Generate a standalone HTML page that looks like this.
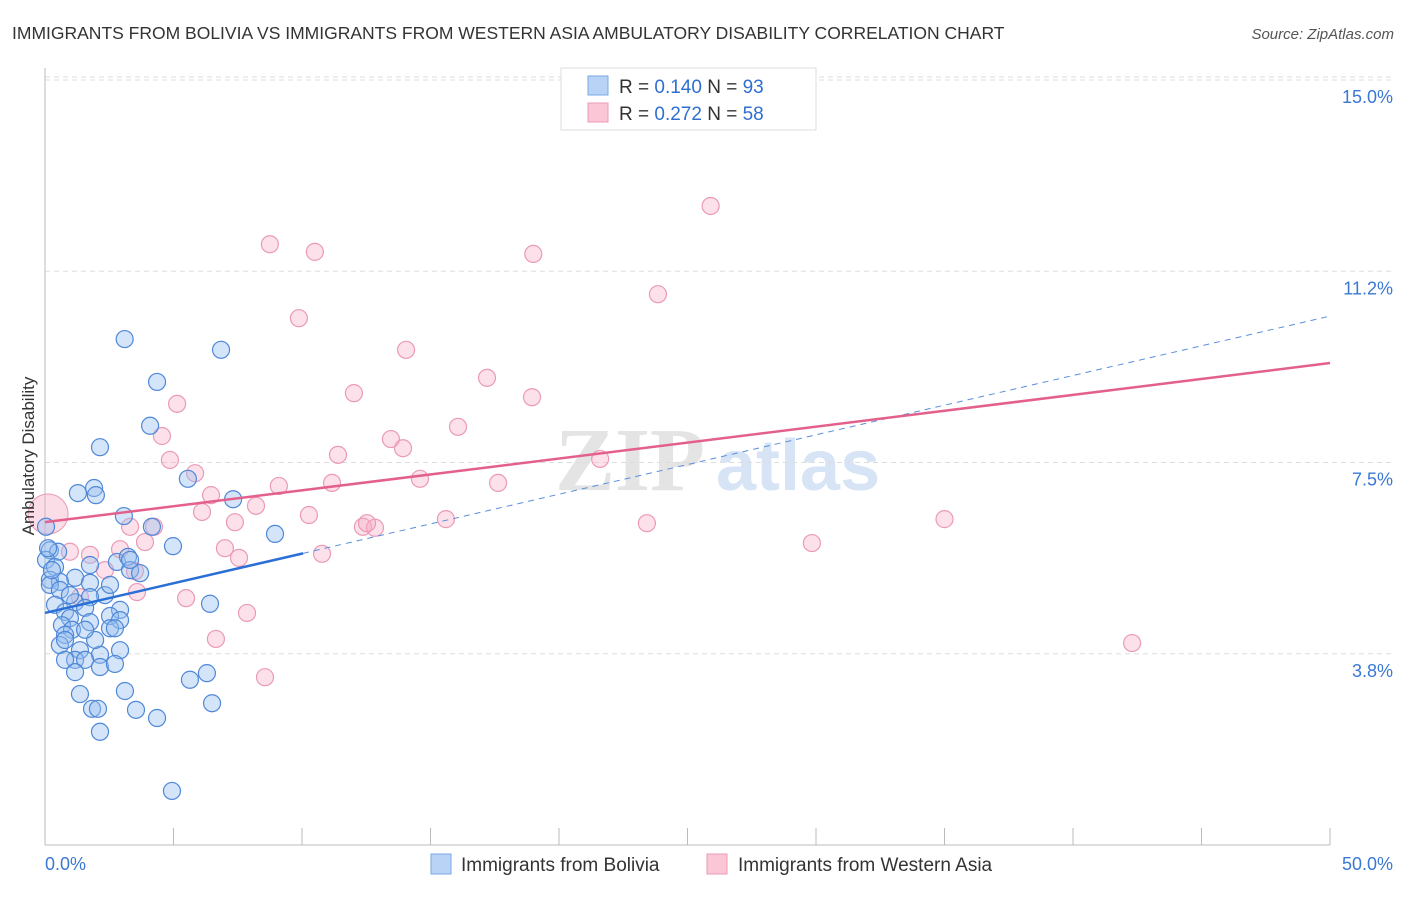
<!DOCTYPE html>
<html><head><meta charset="utf-8"><style>
body{margin:0;background:#fff;font-family:"Liberation Sans",sans-serif}
</style></head><body>
<svg id="chart" width="1406" height="892" xmlns="http://www.w3.org/2000/svg" style="font-family:'Liberation Sans',sans-serif">
<text x="12" y="39" font-size="17.5" fill="#333">IMMIGRANTS FROM BOLIVIA VS IMMIGRANTS FROM WESTERN ASIA AMBULATORY DISABILITY CORRELATION CHART</text>
<text x="1394" y="39" font-size="15" fill="#555" font-style="italic" text-anchor="end">Source: ZipAtlas.com</text>
<g>
<text x="555" y="490" font-size="90" font-family="Liberation Serif,serif" font-weight="bold" fill="#e4e4e4">ZIP</text>
<text x="716" y="490" font-size="72" fill="#d6e4f5" font-weight="bold">atlas</text>
</g>
<g id="grid"></g>
<g id="axes"></g>
<g id="pts"></g>
<g id="lines"></g>
<text transform="translate(34,456) rotate(-90)" font-size="17" fill="#333" text-anchor="middle">Ambulatory Disability</text>
<g>
<rect x="561" y="68" width="255" height="62" fill="#fff" stroke="#ddd"/>
<rect x="588" y="76" width="20" height="19" fill="#b8d3f5" stroke="#7aa8e6"/>
<rect x="588" y="103" width="20" height="19" fill="#fbc6d5" stroke="#ee9ab5"/>
<text x="619" y="93" font-size="19" fill="#333">R = <tspan fill="#2f6fd0">0.140</tspan>   N = <tspan fill="#2f6fd0">93</tspan></text>
<text x="619" y="120" font-size="19" fill="#333">R = <tspan fill="#2f6fd0">0.272</tspan>   N = <tspan fill="#2f6fd0">58</tspan></text>
</g>
<g>
<rect x="431" y="854" width="20" height="20" fill="#b8d3f5" stroke="#7aa8e6"/>
<text x="461" y="871" font-size="19" fill="#333">Immigrants from Bolivia</text>
<rect x="707" y="854" width="20" height="20" fill="#fbc6d5" stroke="#ee9ab5"/>
<text x="738" y="871" font-size="19" fill="#333">Immigrants from Western Asia</text>
</g>
</svg>
<script>
const yTicks=[3.75,7.5,11.25,15];
const yTickLabels=["3.8%","7.5%","11.2%","15.0%"];
const xTickLabels=["0.0%","50.0%"];
const blueX=[3.1,6.85,4.36,4.09,2.14,5.56,1.91,1.28,1.98,7.32,3.07,4.16,0.04,8.95,4.98,0.19,0.51,0.04,2.8,3.23,1.75,0.39,3.31,3.7,1.17,0.19,0.58,1.75,0.19,2.33,1.75,0.58,1.17,0.39,1.56,0.78,2.92,6.42,0.97,2.53,2.92,1.75,0.66,1.05,2.53,2.72,0.78,0.58,1.36,2.14,2.92,1.17,1.56,0.78,2.14,2.72,1.17,5.64,6.3,1.36,3.11,1.83,2.06,3.54,6.5,4.36,2.14,4.94,0.12,0.27,0.97,0.78,1.95,1.56,2.53,3.31];
const blueY=[9.92,9.71,9.08,8.22,7.8,7.18,7.0,6.9,6.86,6.78,6.45,6.24,6.24,6.1,5.86,5.78,5.75,5.59,5.55,5.65,5.49,5.45,5.39,5.33,5.24,5.2,5.16,5.14,5.1,4.9,4.86,5.0,4.76,4.71,4.65,4.57,4.61,4.73,4.45,4.49,4.41,4.37,4.31,4.22,4.25,4.25,4.12,3.92,3.82,3.73,3.82,3.63,3.63,3.63,3.49,3.55,3.39,3.24,3.37,2.96,3.02,2.67,2.67,2.65,2.78,2.49,2.22,1.06,5.82,5.39,4.9,4.02,4.02,4.22,5.1,5.59];
const pinkX=[25.9,8.75,10.5,19.0,23.85,9.88,14.05,17.2,12.02,18.95,5.14,16.07,4.55,13.46,13.93,11.4,21.6,4.86,5.84,14.59,9.1,11.17,17.63,6.46,8.21,6.11,10.27,7.39,15.6,35.0,12.37,12.84,12.53,23.42,4.24,3.31,3.89,7.0,29.84,10.78,7.55,2.92,0.97,1.75,2.33,3.5,3.58,5.49,1.36,7.86,6.65,8.56,42.3];
const pinkY=[12.53,11.78,11.63,11.59,10.8,10.33,9.71,9.16,8.86,8.78,8.65,8.2,8.02,7.96,7.78,7.65,7.57,7.55,7.29,7.18,7.04,7.1,7.1,6.86,6.65,6.53,6.47,6.33,6.39,6.39,6.24,6.22,6.31,6.31,6.24,6.24,5.94,5.82,5.92,5.71,5.63,5.8,5.75,5.69,5.39,5.37,4.96,4.84,4.86,4.55,4.04,3.29,3.96];
const bigPink=[0.12,6.49];
const blueFit=[4.55,10.37], blueSolidEnd=10.04;
const pinkFit=[6.33,9.45];
const X0=45,X1=1330,Y0=845,PY=51;
const sx=v=>X0+(X1-X0)*v/50, sy=v=>Y0-v*PY;
const NS="http://www.w3.org/2000/svg";
function mk(t,a,p){const e=document.createElementNS(NS,t);for(const k in a)e.setAttribute(k,a[k]);p.appendChild(e);return e;}
const grid=document.getElementById('grid'),axes=document.getElementById('axes'),pts=document.getElementById('pts'),lines=document.getElementById('lines');
yTicks.forEach((t,i)=>{
 const l=mk('line',{x1:X0,x2:1393,y1:sy(t),y2:sy(t),stroke:'#ddd','stroke-dasharray':'5,4'},grid);
 
 
 const tx=mk('text',{x:1393,y:sy(t)+23,'font-size':18,fill:'#3a78d4','text-anchor':'end'},axes);
 tx.textContent=yTickLabels[i];
 
 
});
const gl=mk('line',{x1:X0,x2:1393,y1:sy(15)-3,y2:sy(15)-3,stroke:'#ddd','stroke-dasharray':'5,4'},grid);
const ya=mk('line',{x1:X0,x2:X0,y1:68,y2:Y0,stroke:'#bbb'},axes);


const xa=mk('line',{x1:X0,x2:X1,y1:Y0,y2:Y0,stroke:'#bbb'},axes);


for(let i=0;i<=10;i++){const x=sx(i*5);const t=mk('line',{x1:x,x2:x,y1:828,y2:Y0,stroke:'#bbb'},axes);
 
 }
[[0,'start',45],[50,'end',1393]].forEach((d,i)=>{const t=mk('text',{x:d[2],y:870,'font-size':18,fill:'#3a78d4','text-anchor':d[1]},axes);t.textContent=xTickLabels[i];
 
 });
pinkX.forEach((v,i)=>{const c=mk('circle',{cx:sx(v),cy:sy(pinkY[i]),r:8.5,fill:'rgba(246,170,196,0.35)',stroke:'#eb9ab6','stroke-width':1.2},pts);
 
 });
const bp=mk('circle',{cx:sx(bigPink[0]),cy:sy(bigPink[1]),r:20,fill:'rgba(246,170,196,0.4)',stroke:'#eb9ab6'},pts);


blueX.forEach((v,i)=>{const c=mk('circle',{cx:sx(v),cy:sy(blueY[i]),r:8.5,fill:'rgba(150,190,240,0.4)',stroke:'#4f88d8','stroke-width':1.2},pts);
 
 });
const bline=v=>blueFit[0]+(blueFit[1]-blueFit[0])*v/50;
const b1=mk('line',{x1:sx(0),y1:sy(blueFit[0]),x2:sx(blueSolidEnd),y2:sy(bline(blueSolidEnd)),stroke:'#2a6fd6','stroke-width':2.5},lines);


const b2=mk('line',{x1:sx(blueSolidEnd),y1:sy(bline(blueSolidEnd)),x2:sx(50),y2:sy(blueFit[1]),stroke:'#5a8fdc','stroke-width':1,'stroke-dasharray':'6,5'},lines);


const p1=mk('line',{x1:sx(0),y1:sy(pinkFit[0]),x2:sx(50),y2:sy(pinkFit[1]),stroke:'#e4608c','stroke-width':2.5},lines);


</script>
</body></html>
